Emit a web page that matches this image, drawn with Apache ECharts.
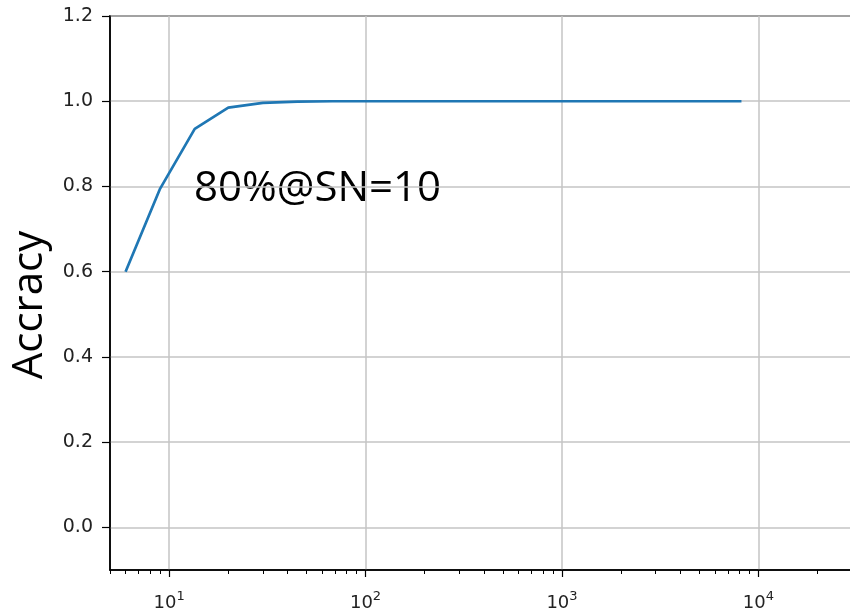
<!DOCTYPE html>
<html>
<head>
<meta charset="utf-8">
<script src="https://cdn.jsdelivr.net/npm/echarts@6/dist/echarts.min.js"></script>
<style>
  html, body { margin: 0; padding: 0; background: #fff; }
  #chart { width: 850px; height: 608px; }
</style>
</head>
<body>
<div id="chart"></div>
<script>
// Sample number (log scale) and accuracy
const sampleNumbers = [6, 9, 13.5, 20, 30, 45, 68, 100, 230, 520, 1200, 2700, 8200];
const accuracy = [0.60, 0.795, 0.935, 0.985, 0.996, 0.999, 1.0, 1.0, 1.0, 1.0, 1.0, 1.0, 1.0];

// Tick positions
const xMajorTicks = [10, 100, 1000, 10000];
const xMinorTicks = [5, 6, 7, 8, 9, 20, 30, 40, 50, 60, 70, 80, 90,
  200, 300, 400, 500, 600, 700, 800, 900,
  2000, 3000, 4000, 5000, 6000, 7000, 8000, 9000, 20000, 30000];
const yTicks = [0, 0.2, 0.4, 0.6, 0.8, 1.0, 1.2];

const yAxisTitle = 'Accracy';
const annotation = '80%@SN=10';

const chart = echarts.init(document.getElementById('chart'), null, { renderer: 'canvas' });

const gridColor = '#c4c4c4';
const tickFont = 'DejaVu Sans';

chart.setOption({
  animation: false,
  backgroundColor: '#ffffff',
  grid: {
    left: 110, top: 16, bottom: 38, right: -20,
    outerBoundsMode: 'none',
    containLabel: false,
    show: true, borderColor: '#000', borderWidth: 1.5, backgroundColor: 'transparent'
  },
  xAxis: [
    {
      type: 'log', logBase: 10, min: 5, max: 37000,
      axisLine: { show: true, onZero: false, lineStyle: { color: '#000', width: 1.5 } },
      axisTick: { show: true, length: 7, customValues: xMajorTicks, lineStyle: { color: '#000', width: 1.2 } },
      splitLine: { show: true, lineStyle: { color: gridColor, width: 1.5 } },
      axisLabel: {
        customValues: xMajorTicks,
        margin: 20,
        formatter: function (v) {
          const e = Math.round(Math.log10(v));
          return '{b|10}{s|' + e + '}';
        },
        rich: {
          b: { fontFamily: tickFont, fontSize: 18, color: '#222', lineHeight: 22, verticalAlign: 'bottom' },
          s: { fontFamily: tickFont, fontSize: 13, color: '#222', lineHeight: 14, verticalAlign: 'top' }
        }
      }
    },
    {
      type: 'log', logBase: 10, min: 5, max: 37000, position: 'bottom',
      axisLine: { show: false, onZero: false },
      axisTick: { show: true, length: 4, customValues: xMinorTicks, lineStyle: { color: '#000', width: 1 } },
      splitLine: { show: false },
      axisLabel: { show: false }
    }
  ],
  yAxis: {
    type: 'value', min: -0.1, max: 1.2,
    axisLine: { show: true, onZero: false, lineStyle: { color: '#000', width: 1.5 } },
    axisTick: { show: true, length: 8, customValues: yTicks, lineStyle: { color: '#000', width: 1.2 } },
    splitLine: { show: true, lineStyle: { color: gridColor, width: 1.5 } },
    axisLabel: {
      customValues: yTicks,
      margin: 17,
      fontFamily: tickFont, fontSize: 19, color: '#222',
      formatter: v => v.toFixed(1)
    }
  },
  graphic: [
    {
      type: 'text', x: 30, y: 305, rotation: Math.PI / 2,
      style: {
        text: yAxisTitle, fontFamily: 'Open Sans', fontSize: 42, fill: '#000',
        align: 'center', verticalAlign: 'middle'
      }
    },
    {
      type: 'text', x: 194, y: 189,
      style: {
        text: annotation, fontFamily: 'Open Sans', fontSize: 42, fill: '#000',
        align: 'left', verticalAlign: 'middle'
      }
    }
  ],
  series: [{
    type: 'line',
    xAxisIndex: 0,
    data: sampleNumbers.map((x, i) => [x, accuracy[i]]),
    showSymbol: false,
    lineStyle: { color: '#1f77b4', width: 2.7 },
    z: 5
  }]
});
</script>
</body>
</html>
